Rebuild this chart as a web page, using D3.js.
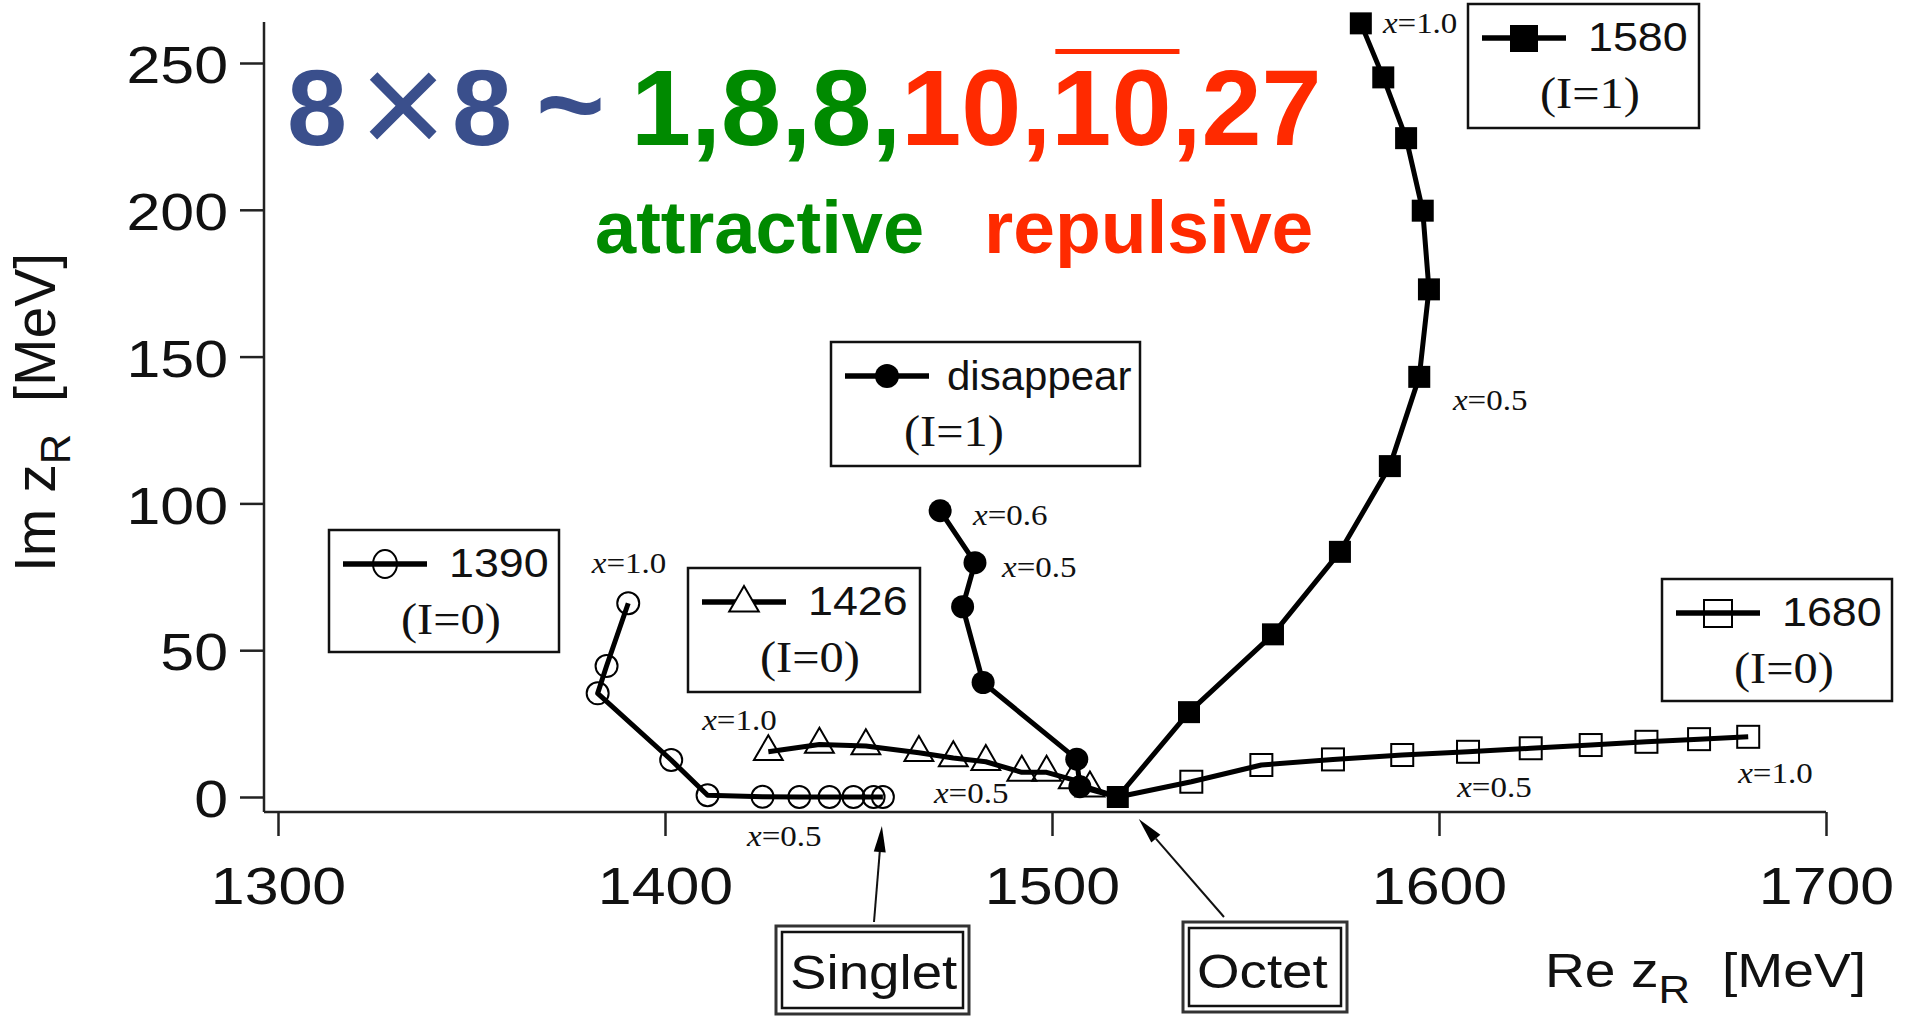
<!DOCTYPE html>
<html>
<head>
<meta charset="utf-8">
<script src="https://cdn.jsdelivr.net/npm/d3@7"></script>
<style>
  body { margin: 0; background: #fff; }
  svg { display: block; }
</style>
</head>
<body>
<svg id="mysvg" width="1910" height="1016"></svg>
<script>
// pole positions z_R (Re, Im in MeV), x = 1.0 ... 0.0 step 0.1
var re1390 = [1390.5, 1384.9, 1382.6, 1401.6, 1411.0, 1425.2, 1434.7, 1442.5, 1448.7, 1453.9, 1456.3];
var im1390 = [66.0, 44.6, 35.3, 12.6, 0.6, 0.1, 0, 0, 0, 0, 0];
var re1426 = [1426.7, 1439.9, 1451.9, 1465.6, 1474.5, 1482.9, 1492.2, 1498.6, 1505.5, 1509.8];
var im1426 = [15.4, 17.9, 17.4, 15.1, 13.3, 12.0, 8.4, 8.4, 5.8, 3.0];
// "disappear" pole, x = 0.6 ... 0.1
var reDis = [1471.1, 1480.1, 1476.9, 1482.2, 1506.4, 1507.2];
var imDis = [97.5, 79.8, 64.8, 39.0, 12.9, 3.5];
var re1580 = [1579.8, 1585.6, 1591.5, 1595.8, 1597.4, 1594.9, 1587.3, 1574.4, 1557.1, 1535.4, 1517];
var im1580 = [263.5, 245.1, 224.4, 199.7, 172.9, 143.1, 112.7, 83.5, 55.4, 28.9, 0];
var re1680 = [1536.0, 1554.1, 1572.6, 1590.5, 1607.5, 1623.7, 1639.2, 1653.6, 1667.2, 1679.9];
var im1680 = [5.2, 10.9, 12.8, 14.3, 15.4, 16.6, 17.7, 18.8, 19.7, 20.5];
var octet = [1517, 0]; // SU(3) limit, x = 0
var xTicks = [1300, 1400, 1500, 1600, 1700];
var yTicks = [0, 50, 100, 150, 200, 250];

// "x=..." notes, anchored in data units
var notes = [
  { t: "1.0", re: 1381.1, im: 76.3 },
  { t: "0.5", re: 1421.2, im: -16.7 },
  { t: "1.0", re: 1409.6, im: 22.8 },
  { t: "0.5", re: 1469.5, im: -2.0 },
  { t: "0.6", re: 1479.6, im: 92.6 },
  { t: "0.5", re: 1487.1, im: 74.9 },
  { t: "1.0", re: 1585.5, im: 260.2 },
  { t: "0.5", re: 1603.6, im: 131.8 },
  { t: "0.5", re: 1604.7, im: 0 },
  { t: "1.0", re: 1677.3, im: 4.8 }
];

var legends = [
  { name: "1390", iso: "(I=0)", mark: "circle", box: [329, 530, 230, 122] },
  { name: "1426", iso: "(I=0)", mark: "triangle", box: [688, 568, 232, 124] },
  { name: "disappear", iso: "(I=1)", mark: "dot", box: [831, 342, 309, 124] },
  { name: "1580", iso: "(I=1)", mark: "fsquare", box: [1468, 4, 231, 124] },
  { name: "1680", iso: "(I=0)", mark: "square", box: [1662, 579, 230, 122] }
];

var sans = "'Liberation Sans', Arial, Helvetica, sans-serif";
var serif = "'Liberation Serif', 'Times New Roman', serif";
var svg = d3.select("#mysvg");

var xScale = d3.scaleLinear().domain([1300, 1700]).range([278, 1826]);
var yScale = d3.scaleLinear().domain([0, 250]).range([797, 63]);

function stext(g, str, x, y, size, family, sx) {
  return g.append("text")
    .attr("transform", "translate(" + x + "," + y + ") scale(" + sx + ",1)")
    .attr("font-size", size)
    .attr("font-family", family)
    .text(str);
}

// axes
var yAxis = svg.append("g")
  .attr("transform", "translate(264,0)")
  .call(d3.axisLeft(yScale).tickValues(yTicks).tickSize(24).tickFormat(d3.format("d")));
yAxis.select(".domain").remove();
yAxis.selectAll(".tick line").attr("stroke", "#222").attr("stroke-width", 2.5);
yAxis.selectAll("text")
  .attr("x", 0).attr("dy", "0.38em")
  .attr("transform", "translate(-36,0) scale(1.17,1)")
  .attr("font-size", 52).attr("font-family", sans).attr("fill", "#111");

var xAxis = svg.append("g")
  .attr("transform", "translate(0,812)")
  .call(d3.axisBottom(xScale).tickValues(xTicks).tickSize(24).tickFormat(d3.format("d")));
xAxis.select(".domain").remove();
xAxis.selectAll(".tick line").attr("stroke", "#222").attr("stroke-width", 2.5);
xAxis.selectAll("text")
  .attr("y", 55).attr("dy", "0.71em")
  .attr("transform", "scale(1.17,1)")
  .attr("font-size", 52).attr("font-family", sans).attr("fill", "#111");

svg.append("line").attr("x1", 264).attr("x2", 264).attr("y1", 22).attr("y2", 812)
  .attr("stroke", "#222").attr("stroke-width", 2.5);
svg.append("line").attr("x1", 264).attr("x2", xScale(1700)).attr("y1", 812).attr("y2", 812)
  .attr("stroke", "#222").attr("stroke-width", 2.5);

// axis titles
var ylab = svg.append("g").attr("transform", "translate(55,572) rotate(-90)");
var ylt = ylab.append("text").attr("font-size", 57).attr("font-family", sans).attr("fill", "#111");
ylt.append("tspan").text("Im z");
ylt.append("tspan").attr("font-size", 42).attr("dy", 15).text("R");
var ylab2 = svg.append("g").attr("transform", "translate(55,253) rotate(-90)");
ylab2.append("text").attr("text-anchor", "end").attr("font-size", 57).attr("font-family", sans)
  .attr("fill", "#111").text("[MeV]");

var xl = stext(svg, "", 1545, 987, 48, sans, 1.15).attr("fill", "#111");
xl.append("tspan").text("Re z");
xl.append("tspan").attr("font-size", 38).attr("dy", 16).text("R");
stext(svg, "[MeV]", 1722, 987, 48, sans, 1.15).attr("fill", "#111");

// trajectories
function pts(re, im) { return re.map(function (r, i) { return [r, im[i]]; }); }
var line = d3.line().x(function (d) { return xScale(d[0]); }).y(function (d) { return yScale(d[1]); });

var p1390 = pts(re1390, im1390);
var p1426 = pts(re1426, im1426);
var pDis = pts(reDis, imDis);
var p1580 = pts(re1580, im1580);
var p1680 = pts(re1680, im1680);

[p1390, p1426.concat([octet]), pDis.concat([octet]), p1580, [octet].concat(p1680)].forEach(function (p) {
  svg.append("path").attr("d", line(p))
    .attr("fill", "none").attr("stroke", "#000").attr("stroke-width", 5)
    .attr("stroke-linejoin", "round");
});

function symbolPath(type, size) { return d3.symbol().type(type).size(size)(); }

svg.selectAll(".m1390").data(p1390).enter().append("circle")
  .attr("cx", function (d) { return xScale(d[0]); }).attr("cy", function (d) { return yScale(d[1]); })
  .attr("r", 11).attr("fill", "none").attr("stroke", "#000").attr("stroke-width", 2);

svg.selectAll(".m1426").data(p1426).enter().append("path")
  .attr("transform", function (d) { return "translate(" + xScale(d[0]) + "," + yScale(d[1]) + ")"; })
  .attr("d", symbolPath(d3.symbolTriangle, 360))
  .attr("fill", "none").attr("stroke", "#000").attr("stroke-width", 2);

svg.selectAll(".m1680").data(p1680).enter().append("rect")
  .attr("x", function (d) { return xScale(d[0]) - 11; }).attr("y", function (d) { return yScale(d[1]) - 11; })
  .attr("width", 22).attr("height", 22)
  .attr("fill", "none").attr("stroke", "#000").attr("stroke-width", 2);

svg.selectAll(".mDis").data(pDis).enter().append("circle")
  .attr("cx", function (d) { return xScale(d[0]); }).attr("cy", function (d) { return yScale(d[1]); })
  .attr("r", 11.5).attr("fill", "#000");

svg.selectAll(".m1580").data(p1580).enter().append("rect")
  .attr("x", function (d) { return xScale(d[0]) - 11; }).attr("y", function (d) { return yScale(d[1]) - 11; })
  .attr("width", 22).attr("height", 22).attr("fill", "#000");

// x = ... notes
notes.forEach(function (n) {
  var t = stext(svg, "", xScale(n.re), yScale(n.im), 30, serif, 1.1).attr("fill", "#111");
  t.append("tspan").attr("font-style", "italic").text("x");
  t.append("tspan").text("=" + n.t);
});

// legend boxes
legends.forEach(function (l) {
  var b = l.box;
  var g = svg.append("g").attr("transform", "translate(" + b[0] + "," + b[1] + ")");
  g.append("rect").attr("width", b[2]).attr("height", b[3])
    .attr("fill", "#fff").attr("stroke", "#111").attr("stroke-width", 2.5);
  var ly = 34, lx0 = 14, lx1 = 98, mx = 56;
  g.append("line").attr("x1", lx0).attr("x2", lx1).attr("y1", ly).attr("y2", ly)
    .attr("stroke", "#000").attr("stroke-width", 5.5);
  if (l.mark == "circle") {
    g.append("ellipse").attr("cx", mx).attr("cy", ly).attr("rx", 12).attr("ry", 14)
      .attr("fill", "none").attr("stroke", "#000").attr("stroke-width", 2);
  } else if (l.mark == "triangle") {
    g.append("path").attr("transform", "translate(" + mx + "," + (ly + 1) + ")")
      .attr("d", symbolPath(d3.symbolTriangle, 380))
      .attr("fill", "#fff").attr("stroke", "#000").attr("stroke-width", 2);
  } else if (l.mark == "dot") {
    g.append("circle").attr("cx", mx).attr("cy", ly).attr("r", 12).attr("fill", "#000");
  } else if (l.mark == "fsquare") {
    g.append("rect").attr("x", mx - 14).attr("y", ly - 13).attr("width", 28).attr("height", 27).attr("fill", "#000");
  } else {
    g.append("rect").attr("x", mx - 14).attr("y", ly - 13).attr("width", 28).attr("height", 27)
      .attr("fill", "none").attr("stroke", "#000").attr("stroke-width", 2);
  }
  var dis = l.name == "disappear";
  stext(g, l.name, dis ? 116 : 120, dis ? 48 : 47, 40, sans, dis ? 1.05 : 1.12).attr("fill", "#111");
  stext(g, l.iso, dis ? 73 : 72, 104, 44, serif, 1.1).attr("fill", "#111");
});

// Singlet / Octet tags with arrows
function tag(str, bx, by, bw, bh, tx, ty) {
  var g = svg.append("g");
  g.append("rect").attr("x", bx).attr("y", by).attr("width", bw).attr("height", bh)
    .attr("fill", "#fff").attr("stroke", "#333").attr("stroke-width", 3);
  g.append("rect").attr("x", bx + 6).attr("y", by + 6).attr("width", bw - 12).attr("height", bh - 12)
    .attr("fill", "none").attr("stroke", "#111").attr("stroke-width", 2.5);
  stext(g, str, tx, ty, 48, sans, 1.14).attr("fill", "#111");
}
function arrow(x0, y0, x1, y1) {
  var a = Math.atan2(y1 - y0, x1 - x0), L = 26, W = 6;
  var bx = x1 - L * Math.cos(a), by = y1 - L * Math.sin(a);
  svg.append("line").attr("x1", x0).attr("y1", y0).attr("x2", bx).attr("y2", by)
    .attr("stroke", "#111").attr("stroke-width", 2);
  svg.append("path")
    .attr("d", "M" + x1 + "," + y1 +
      "L" + (bx + W * Math.sin(a)) + "," + (by - W * Math.cos(a)) +
      "L" + (bx - W * Math.sin(a)) + "," + (by + W * Math.cos(a)) + "Z")
    .attr("fill", "#000");
}
tag("Singlet", 776, 926, 193, 88, 790, 989);
tag("Octet", 1183, 922, 164, 90, 1197, 988);
arrow(874, 922, xScale(re1390[10]) - 1, yScale(0) + 29);
arrow(1224, 917, xScale(octet[0]) + 21, yScale(0) + 22);

// title: 8x8 decomposition
var blue = "#3a4f8c", green = "#008a00", red = "#ff2a00";
svg.append("text").attr("x", 287).attr("y", 145).attr("font-size", 108).attr("font-weight", "bold")
  .attr("font-family", sans).attr("fill", blue).text("8");
svg.append("text").attr("x", 403).attr("y", 156).attr("text-anchor", "middle").attr("font-size", 150)
  .attr("font-family", sans).attr("fill", blue).text("\u00d7");
svg.append("text").attr("x", 452).attr("y", 145).attr("font-size", 108).attr("font-weight", "bold")
  .attr("font-family", sans).attr("fill", blue).text("8");
svg.append("text").attr("x", 536).attr("y", 145).attr("font-size", 118).attr("font-weight", "bold")
  .attr("font-family", sans).attr("fill", blue).text("~");

var title = svg.append("text").attr("x", 631).attr("y", 145).attr("font-size", 108)
  .attr("font-weight", "bold").attr("font-family", sans);
title.append("tspan").attr("fill", green).text("1,8,8,");
title.append("tspan").attr("fill", red).text("10,10,27");
var tn = title.node();
var e9 = tn.getExtentOfChar(9), e10 = tn.getExtentOfChar(10);
svg.append("rect").attr("x", e9.x + 4).attr("y", 49)
  .attr("width", e10.x + e10.width + 8 - (e9.x + 4)).attr("height", 5).attr("fill", red);

svg.append("text").attr("x", 595).attr("y", 253).attr("font-size", 74).attr("font-weight", "bold")
  .attr("font-family", sans).attr("fill", green).text("attractive");
svg.append("text").attr("x", 984).attr("y", 253).attr("font-size", 75).attr("font-weight", "bold")
  .attr("font-family", sans).attr("fill", red).text("repulsive");
</script>
</body>
</html>
